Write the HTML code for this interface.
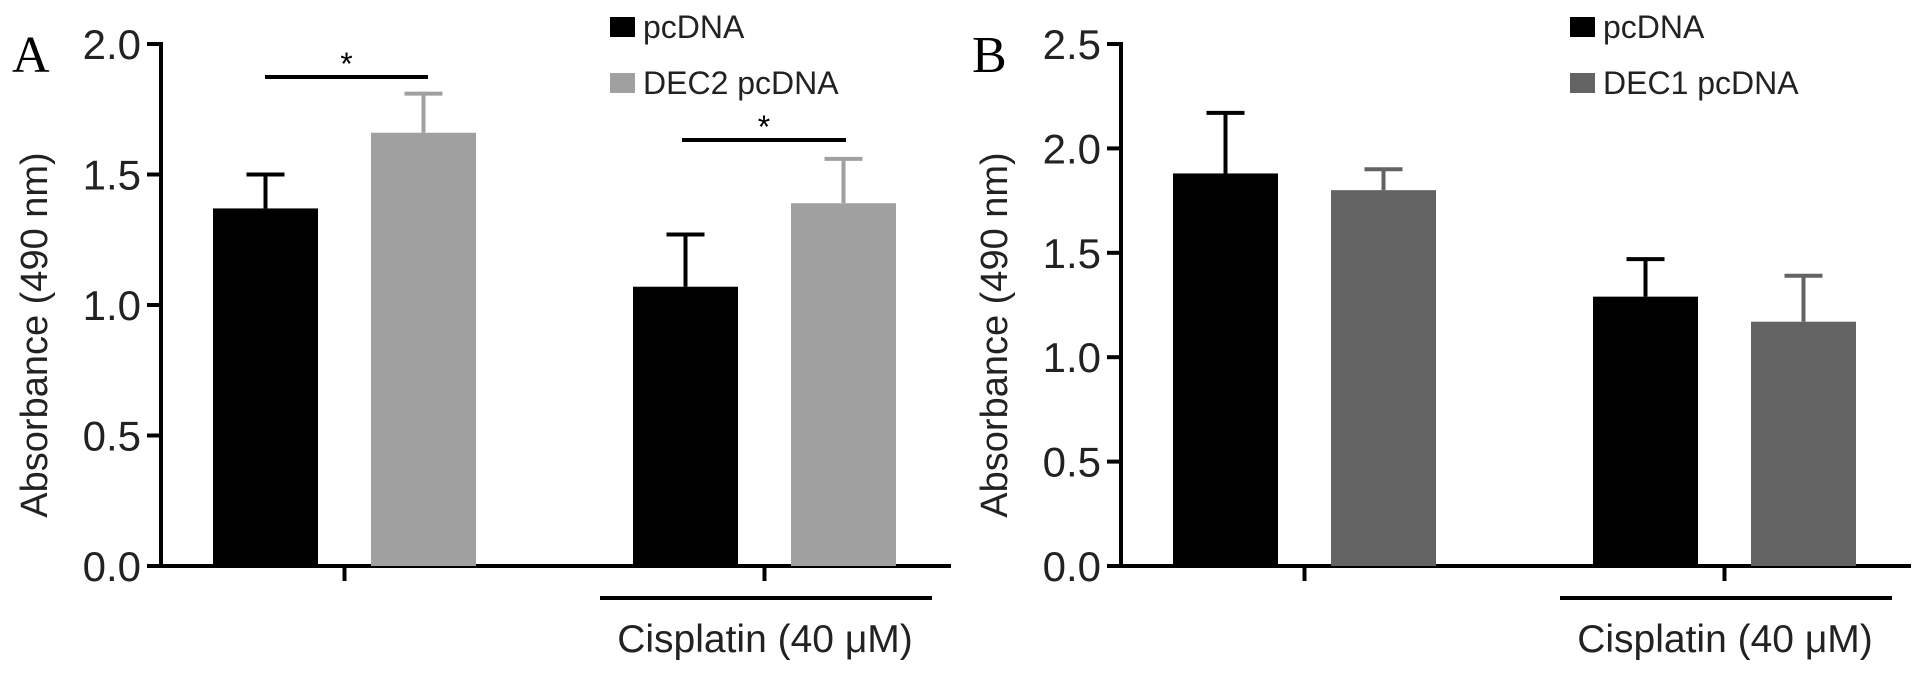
<!DOCTYPE html>
<html><head><meta charset="utf-8"><style>
html,body{margin:0;padding:0;background:#fff;}
svg{display:block;font-family:"Liberation Sans",sans-serif;}
</style></head><body>
<svg id="chart" width="1913" height="677" viewBox="0 0 1913 677"></svg>
<script>
const groupsA = ["control", "cisplatin"];
const seriesA1 = [1.37, 1.07];
const seriesA1Err = [0.13, 0.20];
const seriesA2 = [1.66, 1.39];
const seriesA2Err = [0.15, 0.17];
const ticksA = [0.0, 0.5, 1.0, 1.5, 2.0];
const seriesB1 = [1.88, 1.29];
const seriesB1Err = [0.29, 0.18];
const seriesB2 = [1.80, 1.17];
const seriesB2Err = [0.10, 0.22];
const ticksB = [0.0, 0.5, 1.0, 1.5, 2.0, 2.5];
const legendA = ["pcDNA", "DEC2 pcDNA"];
const legendB = ["pcDNA", "DEC1 pcDNA"];

const NS = "http://www.w3.org/2000/svg";
const svg = document.getElementById("chart");
function mk(tag, attrs, parent, txt){
  const e = document.createElementNS(NS, tag);
  for (const k in attrs) e.setAttribute(k, attrs[k]);
  if (txt !== undefined) e.textContent = txt;
  (parent || svg).appendChild(e);
  return e;
}

function panel(ox, label, ticks, ymax, s1, e1, s2, e2, legend, col2, sigs){
  const g = mk("g", {});
  
  
  const axX = ox + 161, y0 = 566, yTop = 44, axEnd = ox + 951;
  const y = v => y0 - (v / ymax) * (y0 - yTop);
  const barW = 105;
  const groupX = [ox + 213, ox + 633];
  const gap = 158;
  const pl = mk("text", {x: ox + 12, y: 72, "font-family": "Liberation Serif, serif", "font-size": 52}, g, label);
  
  
  const ya = mk("line", {x1: axX, y1: yTop - 2, x2: axX, y2: y0 + 2, stroke: "#000", "stroke-width": 4}, g);
  
  
  ticks.forEach(t => {
    const tl = mk("line", {x1: axX - 14, y1: y(t), x2: axX, y2: y(t), stroke: "#000", "stroke-width": 4}, g);
    
    
    const tt = mk("text", {x: axX - 20, y: y(t) + 15, "text-anchor": "end", "font-size": 42, fill: "#222"}, g, t.toFixed(1));
    
    
  });
  const yt = mk("text", {x: 0, y: 0, "font-size": 38, fill: "#222", "text-anchor": "middle", transform: `translate(${ox + 47},${(y0 + yTop) / 2 + 30}) rotate(-90)`}, g, "Absorbance (490 nm)");
  
  
  const xa = mk("line", {x1: axX - 2, y1: y0, x2: axEnd, y2: y0, stroke: "#000", "stroke-width": 4}, g);
  
  
  const series = [[s1, e1, "#000"], [s2, e2, col2]];
  groupX.forEach((gx, i) => {
    series.forEach((s, j) => {
      const bx = gx + j * gap;
      const v = s[0][i], er = s[1][i];
      const cx = bx + barW / 2;
      const el = mk("line", {x1: cx, y1: y(v), x2: cx, y2: y(v + er), stroke: s[2], "stroke-width": 4}, g);
      
      
      const cap = mk("line", {x1: cx - 19, y1: y(v + er), x2: cx + 19, y2: y(v + er), stroke: s[2], "stroke-width": 4}, g);
      
      
      const r = mk("rect", {x: bx, y: y(v), width: barW, height: y0 - y(v), fill: s[2]}, g);
      
      
    });
    const tx = gx + (gap + barW) / 2;
    const tk = mk("line", {x1: tx, y1: y0, x2: tx, y2: y0 + 15, stroke: "#000", "stroke-width": 4}, g);
    
    
  });
  const cl = mk("line", {x1: ox + 600, y1: 598, x2: ox + 932, y2: 598, stroke: "#000", "stroke-width": 4}, g);
  
  
  const ct = mk("text", {x: ox + 765, y: 652, "text-anchor": "middle", "font-size": 39, fill: "#222"}, g, "Cisplatin (40 μM)");
  
  
  sigs.forEach(sg => {
    const sl = mk("line", {x1: ox + sg[0], y1: sg[2], x2: ox + sg[1], y2: sg[2], stroke: "#000", "stroke-width": 4}, g);
    
    
    const st = mk("text", {x: ox + (sg[0] + sg[1]) / 2, y: sg[2] - 2, "text-anchor": "middle", "font-size": 32}, g, "*");
    
    
  });
  [["#000", 0], [col2, 1]].forEach(([c, i]) => {
    const ly = 17 + i * 56;
    const sq = mk("rect", {x: ox + 610, y: ly, width: 25, height: 20, fill: c}, g);
    
    
    const lt = mk("text", {x: ox + 643, y: ly + 21, "font-size": 32, fill: "#222"}, g, legend[i]);
    
    
  });
}

panel(0, "A", ticksA, 2.0, seriesA1, seriesA1Err, seriesA2, seriesA2Err, legendA, "#a0a0a0",
  [[265, 428, 77], [682, 846, 140]]);
panel(960, "B", ticksB, 2.5, seriesB1, seriesB1Err, seriesB2, seriesB2Err, legendB, "#636363", []);
</script>
</body></html>
